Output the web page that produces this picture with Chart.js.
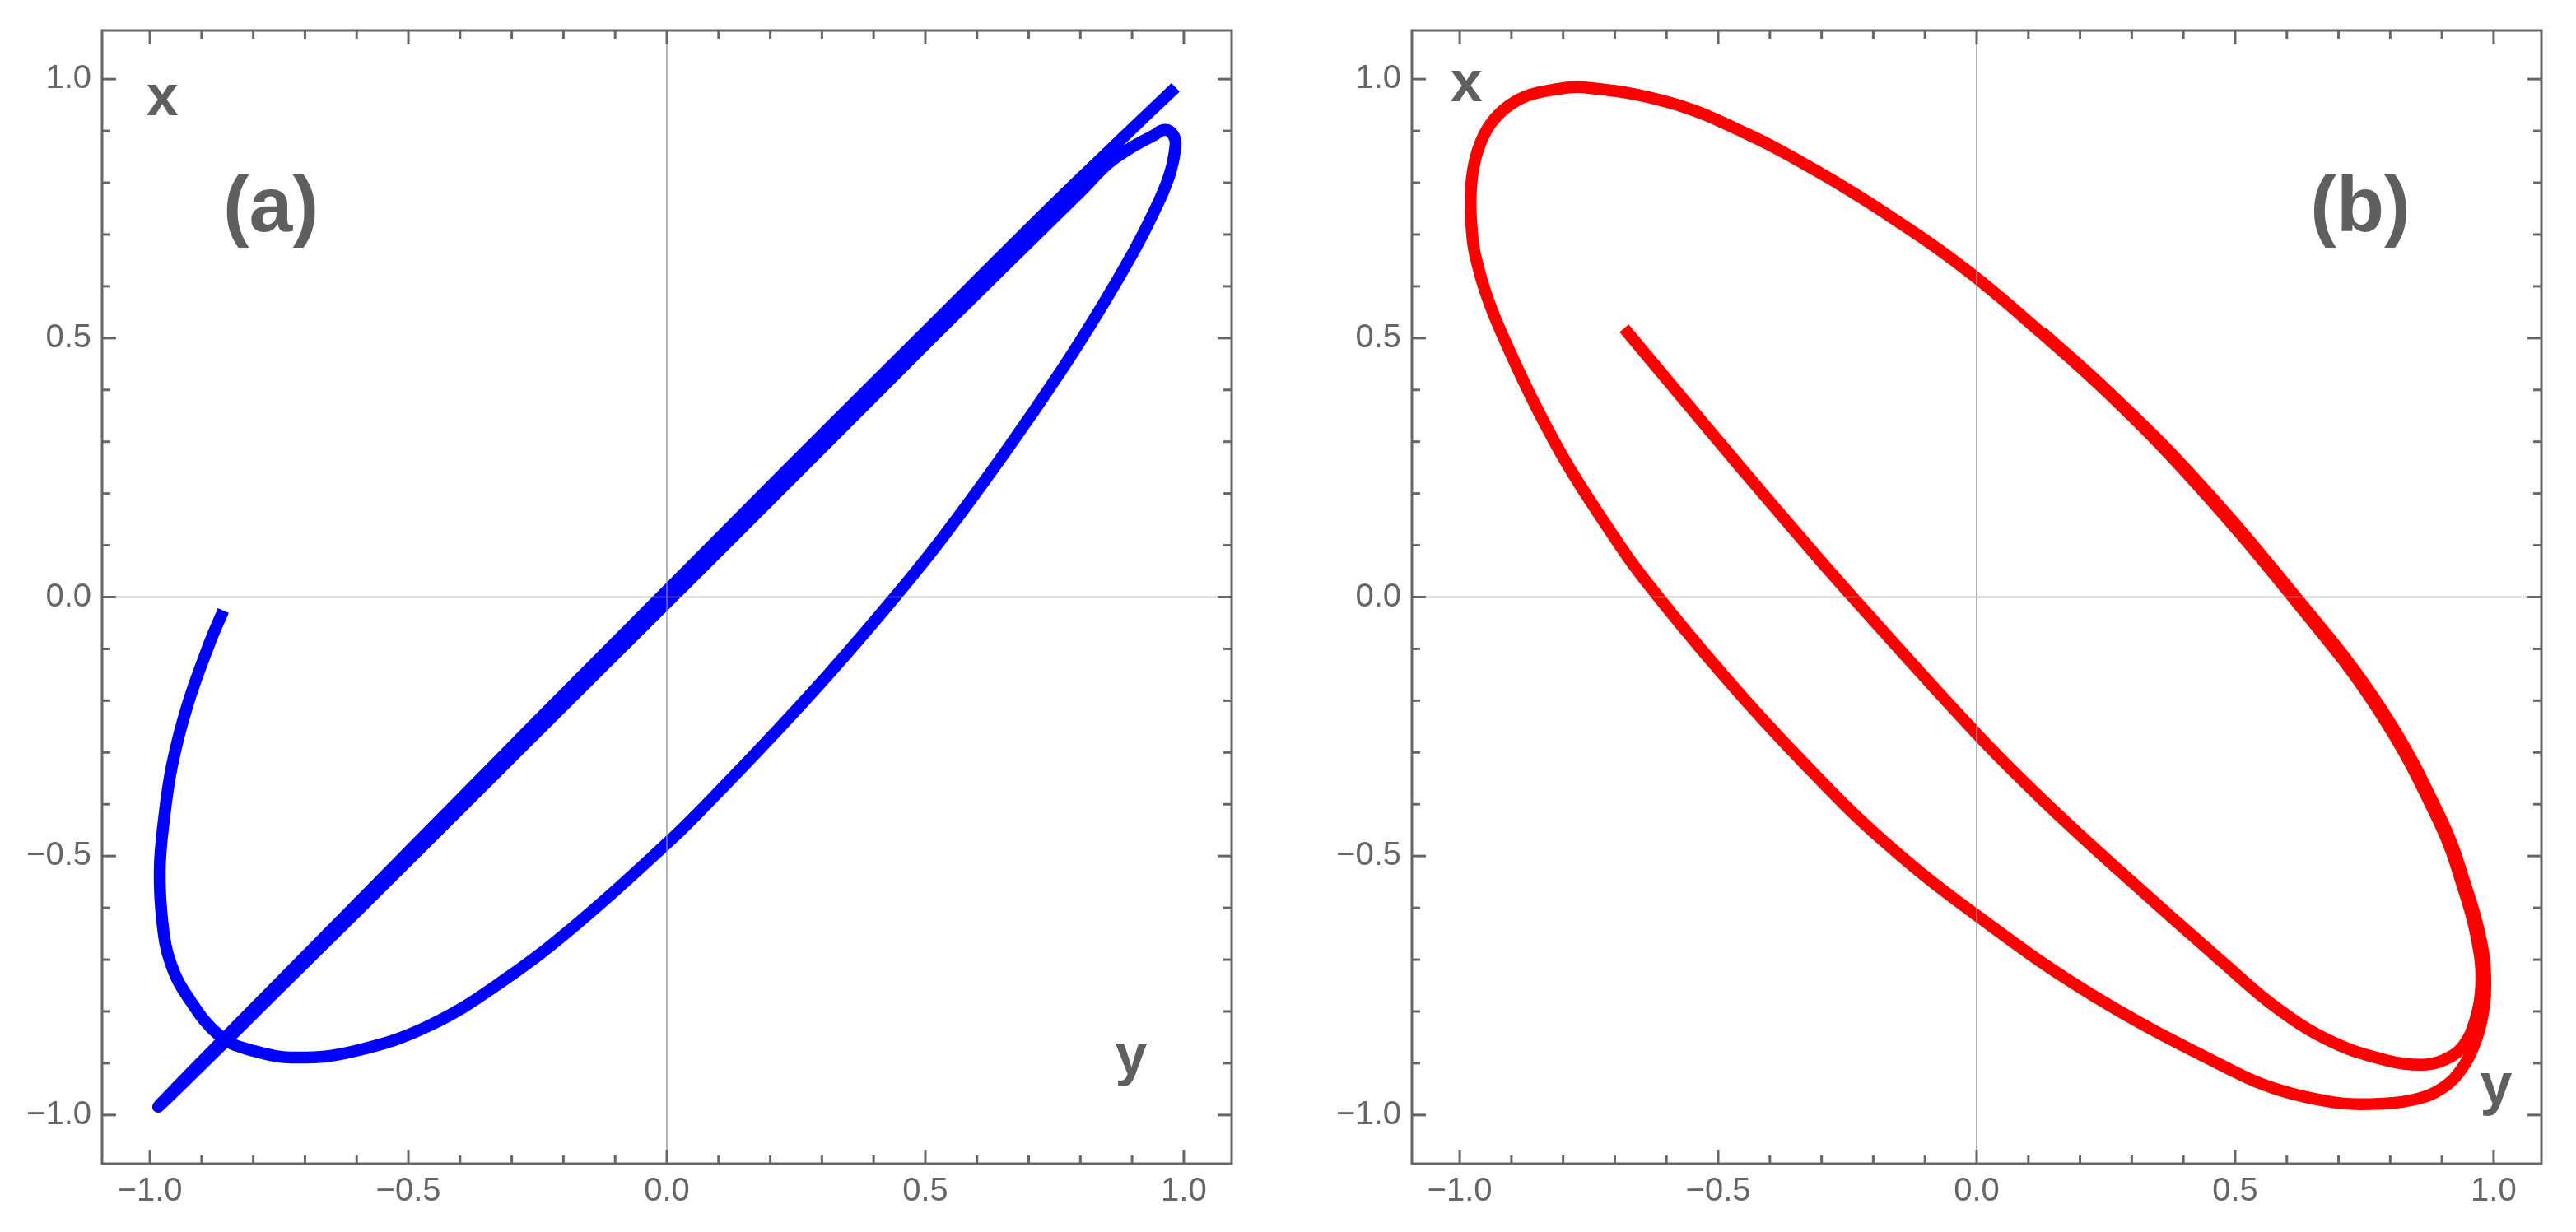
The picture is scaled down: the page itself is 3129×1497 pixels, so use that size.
<!DOCTYPE html>
<html>
<head>
<meta charset="utf-8">
<script src="https://cdn.jsdelivr.net/npm/chart.js@4.4.1/dist/chart.umd.min.js"></script>
<style>
  html, body { margin: 0; padding: 0; background: #fff; }
  body { width: 3129px; height: 1497px; position: relative; overflow: hidden; }
  canvas { position: absolute; top: 0; }
  #chartA { left: 0; }
  #chartB { left: 1560px; }
</style>
</head>
<body>
<canvas id="chartA" width="1560" height="1497"></canvas>
<canvas id="chartB" width="1569" height="1497"></canvas>
<script>
// tick values / labels (same on both axes of both panels)
const majorTicks = [-1, -0.5, 0, 0.5, 1]
const tickLabels = ['\u22121.0', '\u22120.5', '0.0', '0.5', '1.0']

// panel (a): horizontal value (axis "y") and vertical value (axis "x"), in drawing order
const curveA_h = [
  -0.858, -0.885, -0.928, -0.957, -0.972, -0.981, -0.975, -0.960, -0.928, -0.864,
  -0.800, -0.715, -0.601, -0.459, -0.317, -0.175, 0.003, 0.075, 0.197, 0.319,
  0.441, 0.532, 0.654, 0.764, 0.840, 0.903, 0.939, 0.971, 0.984, 0.979,
  0.963, 0.939, 0.897, 0.855, 0.800, 0.650, 0.500, 0.250, 0.000, -0.250,
  -0.500, -0.750, -0.900, -0.984, -0.900, -0.750, -0.500, -0.250, 0.000, 0.250,
  0.500, 0.750, 0.900, 0.984
]
const curveA_v = [
  -0.026, -0.090, -0.211, -0.324, -0.423, -0.529, -0.635, -0.706, -0.770, -0.848,
  -0.876, -0.889, -0.876, -0.827, -0.741, -0.632, -0.473, -0.402, -0.275, -0.142,
  0.000, 0.113, 0.279, 0.439, 0.559, 0.667, 0.737, 0.811, 0.872, 0.893,
  0.902, 0.890, 0.867, 0.838, 0.783, 0.636, 0.488, 0.238, -0.011, -0.259,
  -0.508, -0.755, -0.903, -0.984, -0.897, -0.745, -0.492, -0.239, 0.012, 0.263,
  0.512, 0.760, 0.904, 0.984
]

// panel (b)
const curveB_h = [
  -0.682, -0.575, -0.469, -0.340, -0.240, 0.002, 0.130, 0.279, 0.476, 0.583,
  0.688, 0.795, 0.858, 0.901, 0.940, 0.965, 0.976, 0.970, 0.943, 0.895,
  0.775, 0.611, 0.412, 0.253, 0.125, -0.018, -0.169, -0.310, -0.452, -0.595,
  -0.758, -0.822, -0.872, -0.910, -0.940, -0.961, -0.974, -0.979, -0.977, -0.970,
  -0.944, -0.899, -0.848, -0.790, -0.722, -0.648, -0.487, -0.331, -0.178, 0.002,
  0.228, 0.500, 0.583, 0.688, 0.763, 0.847, 0.901, 0.938, 0.965, 0.980,
  0.984, 0.977, 0.948, 0.900, 0.780, 0.615, 0.415, 0.255, 0.127
]
const curveB_v = [
  0.519, 0.391, 0.265, 0.114, 0.000, -0.266, -0.394, -0.531, -0.705, -0.795,
  -0.859, -0.895, -0.903, -0.895, -0.868, -0.815, -0.750, -0.672, -0.567, -0.435,
  -0.215, 0.000, 0.233, 0.395, 0.510, 0.630, 0.736, 0.823, 0.898, 0.955,
  0.984, 0.979, 0.967, 0.945, 0.914, 0.874, 0.826, 0.770, 0.713, 0.660,
  0.571, 0.465, 0.359, 0.253, 0.147, 0.041, -0.154, -0.324, -0.473, -0.616,
  -0.771, -0.917, -0.951, -0.975, -0.979, -0.970, -0.948, -0.911, -0.858, -0.800,
  -0.745, -0.670, -0.564, -0.432, -0.212, 0.003, 0.236, 0.396, 0.511
]

const RANGE_X = 1.0925
const RANGE_Y = 1.094
const GRAY = '#666666'
const TEXT_GRAY = '#5f5f5f'

// frame with inward ticks, zero axes and the in-plot labels
const frameDecor = {
  id: 'frameDecor',
  afterDatasetsDraw(chart, args, opts) {
    const { ctx, chartArea: a, scales: { x, y } } = chart
    const line = (x1, y1, x2, y2) => { ctx.beginPath(); ctx.moveTo(x1, y1); ctx.lineTo(x2, y2); ctx.stroke() }
    ctx.save()
    ctx.strokeStyle = '#8a8a8a'
    ctx.lineWidth = 1.3
    const x0 = x.getPixelForValue(0)
    const y0 = y.getPixelForValue(0)
    line(x0, a.top, x0, a.bottom)
    line(a.left, y0, a.right, y0)

    ctx.strokeStyle = GRAY
    ctx.lineWidth = 3
    ctx.strokeRect(a.left, a.top, a.width, a.height)
    for (let i = -10; i <= 10; i++) {
      const v = i / 10
      const len = i % 5 === 0 ? 17 : 10
      const px = x.getPixelForValue(v)
      line(px, a.bottom, px, a.bottom - len)
      line(px, a.top, px, a.top + len)
      const py = y.getPixelForValue(v)
      line(a.left, py, a.left + len, py)
      line(a.right, py, a.right - len, py)
    }

    ctx.fillStyle = TEXT_GRAY
    ctx.textAlign = 'center'
    ctx.textBaseline = 'alphabetic'
    for (const t of opts.labels) {
      ctx.font = 'bold ' + t.size + 'px "Liberation Sans", Arial, sans-serif'
      ctx.fillText(t.text, x.getPixelForValue(t.h), y.getPixelForValue(t.v))
    }
    ctx.restore()
  }
}

function axis(range, isX) {
  return {
    type: 'linear',
    min: -range,
    max: range,
    afterBuildTicks: s => { s.ticks = majorTicks.map(v => ({ value: v })) },
    grid: { display: false, drawTicks: false },
    border: { display: false },
    ticks: {
      autoSkip: false,
      maxRotation: 0,
      padding: isX ? 10 : 13,
      color: GRAY,
      font: { family: '"Liberation Sans", Arial, sans-serif', size: 40 },
      callback: (value, index) => tickLabels[index]
    }
  }
}

function makeChart(id, h, v, color, yAxisWidth, padRight, labels) {
  const xScale = axis(RANGE_X, true)
  xScale.afterFit = s => { s.height = 83 }
  const yScale = axis(RANGE_Y, false)
  yScale.afterFit = s => { s.width = yAxisWidth }
  return new Chart(document.getElementById(id), {
    type: 'scatter',
    data: {
      datasets: [{
        data: h.map((val, i) => ({ x: val, y: v[i] })),
        showLine: true,
        borderColor: color,
        borderWidth: 14.5,
        tension: 0.4,
        borderCapStyle: 'butt',
        borderJoinStyle: 'round',
        pointRadius: 0,
        fill: false
      }]
    },
    options: {
      responsive: false,
      devicePixelRatio: 1,
      animation: false,
      layout: { padding: { top: 36, right: padRight, bottom: 0, left: 0 } },
      plugins: {
        legend: { display: false },
        tooltip: { enabled: false },
        frameDecor: { labels }
      },
      scales: { x: xScale, y: yScale }
    },
    plugins: [frameDecor]
  })
}

makeChart('chartA', curveA_h, curveA_v, '#0000ff', 124, 64, [
  { text: 'x', h: -0.976, v: 0.930, size: 70 },
  { text: '(a)', h: -0.766, v: 0.706, size: 95 },
  { text: 'y', h: 0.898, v: -0.921, size: 70 }
])
makeChart('chartB', curveB_h, curveB_v, '#ff0000', 155, 42, [
  { text: 'x', h: -0.987, v: 0.957, size: 70 },
  { text: '(b)', h: 0.742, v: 0.706, size: 95 },
  { text: 'y', h: 1.005, v: -0.978, size: 70 }
])
</script>
</body>
</html>
